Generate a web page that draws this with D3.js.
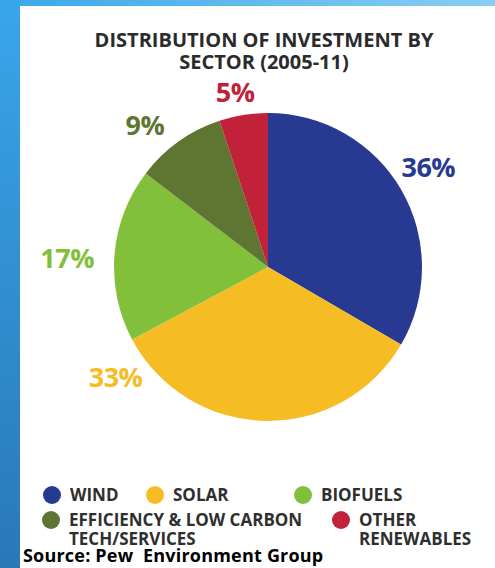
<!DOCTYPE html>
<html>
<head>
<meta charset="utf-8">
<script src="https://cdn.jsdelivr.net/npm/d3@7"></script>
<style>
  body { margin: 0; background: #fff; }
  svg { display: block; }
</style>
</head>
<body>
<svg id="chart" width="495" height="568"></svg>
<script>
// sectors, in clockwise order from 12 o'clock
const sectors = ['WIND', 'SOLAR', 'BIOFUELS', 'EFFICIENCY & LOW CARBON\nTECH/SERVICES', 'OTHER\nRENEWABLES'];
// slice sizes as drawn in the original (its arcs do not follow the printed labels exactly)
const shares = [33.4, 33.8, 18.2, 9.5, 5.1];
const shareLabels = ['36%', '33%', '17%', '9%', '5%'];
const colors = ['#283991', '#f5bd23', '#82c03c', '#5f7532', '#c1223a'];

const svg = d3.select('#chart');
const W = 495, H = 568;

// page background: blue frame strip on the left / top
const defs = svg.append('defs');
const g1 = defs.append('linearGradient').attr('id', 'side').attr('x1', 0).attr('y1', 0).attr('x2', 0).attr('y2', 1);
g1.append('stop').attr('offset', '0%').attr('stop-color', '#38a6ea');
g1.append('stop').attr('offset', '100%').attr('stop-color', '#2a78b6');
const g2 = defs.append('linearGradient').attr('id', 'top').attr('x1', 0).attr('y1', 0).attr('x2', 1).attr('y2', 0);
g2.append('stop').attr('offset', '0%').attr('stop-color', '#3aa8ea');
g2.append('stop').attr('offset', '100%').attr('stop-color', '#88cdf2');

svg.append('rect').attr('x', 0).attr('y', 0).attr('width', W).attr('height', 6).attr('fill', 'url(#top)');
svg.append('rect').attr('x', 0).attr('y', 0).attr('width', 20).attr('height', H).attr('fill', 'url(#side)');

// title
svg.append('text')
  .attr('x', 264).attr('y', 47)
  .attr('text-anchor', 'middle')
  .style('font-family', 'Open Sans, sans-serif')
  .style('font-weight', 700)
  .style('font-size', '20px')
  .attr('fill', '#2b2b2b')
  .selectAll('tspan')
  .data(['DISTRIBUTION OF INVESTMENT BY', 'SECTOR (2005-11)'])
  .join('tspan')
  .attr('x', 264)
  .attr('dy', (d, i) => i ? 22 : 0)
  .text(d => d);

// pie
const cx = 268, cy = 267, radius = 154;
const pie = d3.pie().sort(null).value(d => d)(shares);
const arc = d3.arc().innerRadius(0).outerRadius(radius);

const g = svg.append('g').attr('transform', `translate(${cx},${cy})`);

g.selectAll('path')
  .data(pie)
  .join('path')
  .attr('d', arc)
  .attr('fill', (d, i) => colors[i]);

// percentage labels sit outside the rim; the solar one is pushed round to the lower left
const labelR = [189, 188, 201, 188, 178];
const labelShift = [-0.037, 0.927, -0.037, -0.095, -0.025];
g.selectAll('text.pct')
  .data(pie)
  .join('text')
  .attr('class', 'pct')
  .attr('transform', (d, i) => {
    const a = (d.startAngle + d.endAngle) / 2 + labelShift[i];
    const [x, y] = d3.arc().innerRadius(labelR[i]).outerRadius(labelR[i])
      .centroid({ startAngle: a, endAngle: a });
    return `translate(${x},${y})`;
  })
  .attr('text-anchor', 'middle')
  .attr('dy', '0.36em')
  .style('font-family', 'Open Sans, sans-serif')
  .style('font-weight', 700)
  .style('font-size', '27px')
  .style('letter-spacing', '-0.5px')
  .attr('fill', (d, i) => colors[i])
  .text((d, i) => shareLabels[i]);

// legend
const legendX = [52, 155, 303, 51, 341];
const legendY = [495, 495, 495, 520, 520];

const leg = svg.append('g').selectAll('g')
  .data(sectors)
  .join('g')
  .attr('transform', (d, i) => `translate(${legendX[i]},${legendY[i]})`);

leg.append('circle')
  .attr('r', 9)
  .attr('fill', (d, i) => colors[i]);

leg.append('text')
  .attr('x', 18)
  .attr('y', 6)
  .style('font-family', 'Open Sans, sans-serif')
  .style('font-weight', 700)
  .style('font-size', '17px')
  .attr('fill', '#2f2f2f')
  .selectAll('tspan')
  .data(d => d.split('\n'))
  .join('tspan')
  .attr('x', 18)
  .attr('dy', (d, i) => i ? 19 : 0)
  .text(d => d);

// source note
svg.append('text')
  .attr('x', 23).attr('y', 562)
  .style('font-family', 'Open Sans, sans-serif')
  .style('font-weight', 700)
  .style('font-size', '18px')
  .style('letter-spacing', '0.2px')
  .style('white-space', 'pre')
  .attr('fill', '#000')
  .text('Source: Pew  Environment Group');
</script>
</body>
</html>
